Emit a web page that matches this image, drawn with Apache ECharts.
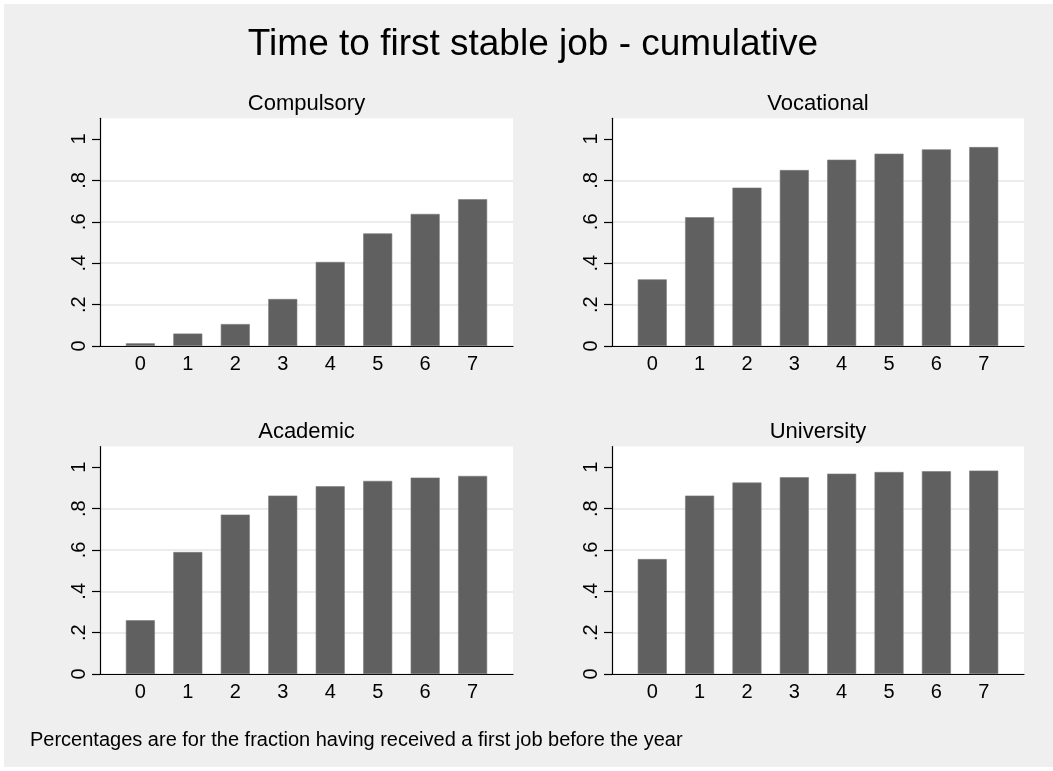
<!DOCTYPE html>
<html>
<head>
<meta charset="utf-8">
<script src="https://cdn.jsdelivr.net/npm/echarts@6/dist/echarts.min.js"></script>
<style>
html,body{margin:0;padding:0;background:#fff;}
#chart{width:1053px;height:771px;}
</style>
</head>
<body>
<div id="chart"></div>
<script>
const mainTitle = 'Time to first stable job - cumulative';
const note = 'Percentages are for the fraction having received a first job before the year';
const years = [0, 1, 2, 3, 4, 5, 6, 7];
const panelNames = ['Compulsory', 'Vocational', 'Academic', 'University'];
const compulsory = [0.013, 0.060, 0.106, 0.227, 0.406, 0.544, 0.638, 0.709];
const vocational = [0.322, 0.622, 0.765, 0.850, 0.900, 0.929, 0.950, 0.961];
const academic   = [0.260, 0.590, 0.771, 0.863, 0.908, 0.934, 0.950, 0.958];
const university = [0.556, 0.863, 0.926, 0.952, 0.969, 0.977, 0.981, 0.984];
const yTicks = [0, 0.2, 0.4, 0.6, 0.8, 1];
const yTickLabels = ['0', '.2', '.4', '.6', '.8', '1'];

const panelValues = [compulsory, vocational, academic, university];
const FONT = '"Liberation Sans", Arial, Helvetica, sans-serif';
const BAR = '#606060';

const grids = [
  {left: 100, top: 118.3, width: 413, height: 227.7},
  {left: 612, top: 118.3, width: 412, height: 227.7},
  {left: 100, top: 446.6, width: 413, height: 227.4},
  {left: 612, top: 446.6, width: 412, height: 227.4}
];

const chart = echarts.init(document.getElementById('chart'), null, {renderer: 'canvas'});

const xAxes = [], yAxes = [], series = [], graphics = [];

graphics.push({type: 'rect', shape: {x: 4, y: 4, width: 1049, height: 763}, style: {fill: '#efefef'}, z: -10, silent: true});
graphics.push({type: 'text', x: 533, y: 45, style: {text: mainTitle, font: '37px ' + FONT, fill: '#000', textAlign: 'center', textVerticalAlign: 'middle'}});
graphics.push({type: 'text', x: 30, y: 740, style: {text: note, font: '20px ' + FONT, fill: '#000', textAlign: 'left', textVerticalAlign: 'middle'}});

grids.forEach((g, i) => {
  g.show = true;
  g.backgroundColor = '#ffffff';
  g.borderWidth = 0;
  g.containLabel = false;
  xAxes.push({
    gridIndex: i, type: 'value', min: -0.85, max: 7.85,
    axisLine: {show: true, onZero: false, lineStyle: {color: '#000', width: 1.2}},
    axisTick: {show: false},
    splitLine: {show: false},
    axisLabel: {customValues: years, margin: 8, fontSize: 20, fontFamily: FONT, color: '#000', formatter: v => String(v)}
  });
  yAxes.push({
    gridIndex: i, type: 'value', min: 0, max: 1.1, interval: 0.2,
    axisLine: {show: true, onZero: false, lineStyle: {color: '#000', width: 1.2}},
    axisTick: {show: true, length: 8, customValues: yTicks, lineStyle: {color: '#000', width: 1.2}},
    splitLine: {show: true, showMaxLine: false, lineStyle: {color: '#e6e6e6', width: 1.5}},
    axisLabel: {customValues: yTicks, rotate: 90, margin: 11, fontSize: 20, fontFamily: FONT, color: '#000',
      formatter: v => { const k = yTicks.findIndex(t => Math.abs(t - v) < 1e-6); return k >= 0 ? yTickLabels[k] : ''; }}
  });
  series.push({
    type: 'bar', xAxisIndex: i, yAxisIndex: i,
    barWidth: 29,
    itemStyle: {color: BAR, borderColor: '#7a7a7a', borderWidth: 0.6},
    data: years.map((y, k) => [y, panelValues[i][k]]),
    silent: true, animation: false
  });
  graphics.push({type: 'text', x: g.left + g.width / 2, y: (i < 2 ? 103.5 : 431.5),
    style: {text: panelNames[i], font: '22px ' + FONT, fill: '#000', textAlign: 'center', textVerticalAlign: 'middle'}});
});

chart.setOption({
  backgroundColor: '#ffffff',
  animation: false,
  grid: grids,
  xAxis: xAxes,
  yAxis: yAxes,
  series: series,
  graphic: graphics
});
</script>
</body>
</html>
